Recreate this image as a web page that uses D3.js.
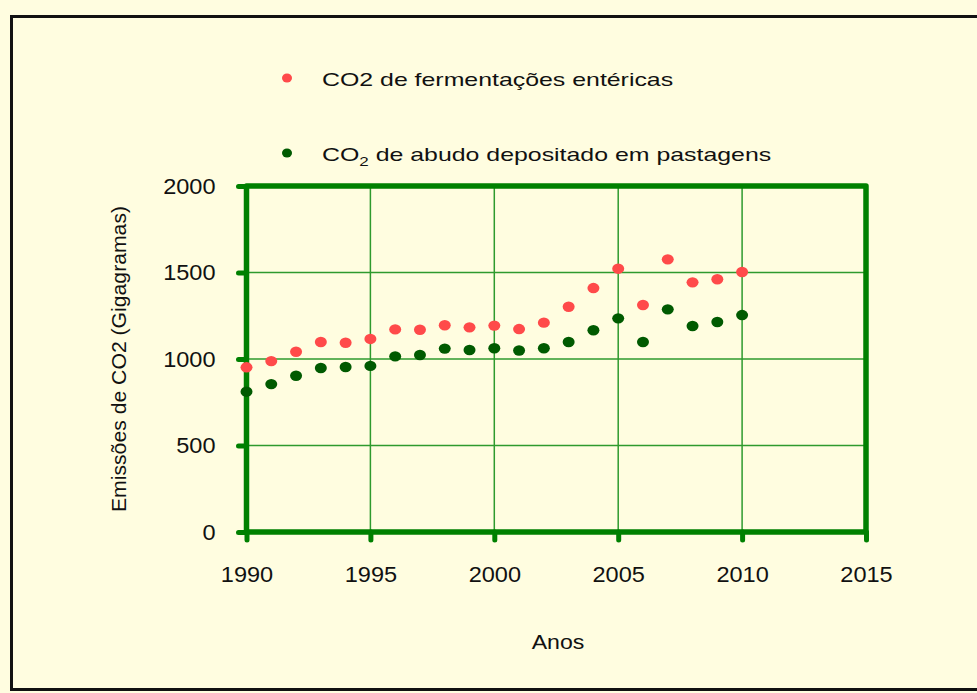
<!DOCTYPE html>
<html><head><meta charset="utf-8">
<script src="https://cdn.jsdelivr.net/npm/d3@7"></script>
<style>
html,body{margin:0;padding:0;background:#FFFDE0;}
svg{display:block;font-family:"Liberation Sans",Arial,sans-serif;}
</style></head>
<body><svg id="c" width="977" height="693"></svg>
<script>
const years = [1990,1991,1992,1993,1994,1995,1996,1997,1998,1999,2000,2001,2002,2003,2004,2005,2006,2007,2008,2009,2010];
const enteric = [952,988,1042,1098,1094,1116,1171,1169,1195,1183,1193,1173,1210,1302,1410,1522,1312,1576,1443,1461,1503];
const manure  = [811,855,903,948,954,960,1015,1023,1060,1052,1062,1049,1062,1098,1166,1235,1098,1287,1191,1214,1254];
const xTicks = [1990,1995,2000,2005,2010,2015];
const yTicks = [0,500,1000,1500,2000];
const seriesNames = ["CO2 de fermentações entéricas","de abudo depositado em pastagens"];
const seriesColors = ["#FF4A4A","#005A00"];

const svg = d3.select("#c");
svg.append("rect").attr("width",977).attr("height",693).attr("fill","#FFFDE0");
svg.append("rect").attr("x",11.5).attr("y",16.5).attr("width",990).attr("height",673)
  .attr("fill","#FFFDE0").attr("stroke","#111").attr("stroke-width",3);

const x = d3.scaleLinear().domain([1990,2015]).range([246.5,866]);
const y = d3.scaleLinear().domain([0,2000]).range([532,186]);
const green = "#008000";
const FONT = "'Liberation Sans',Arial,sans-serif";

// grid
const g = svg.append("g");
g.selectAll(".vg").data(xTicks.slice(1,-1)).join("line")
  .attr("x1",d=>x(d)).attr("x2",d=>x(d)).attr("y1",y(0)).attr("y2",y(2000))
  .attr("stroke","#2E9A2E").attr("stroke-width",1.5);
g.selectAll(".hg").data(yTicks.slice(1,-1)).join("line")
  .attr("y1",d=>y(d)).attr("y2",d=>y(d)).attr("x1",x(1990)).attr("x2",x(2015))
  .attr("stroke","#2E9A2E").attr("stroke-width",1.5);

// axes with D3
const tickSX = 1.07;
const xAxis = d3.axisBottom(x).tickValues(xTicks).tickFormat(d3.format("d")).tickSize(8).tickPadding(26);
const yAxis = d3.axisLeft(y).tickValues(yTicks).tickFormat(d3.format("d")).tickSize(8).tickPadding(23);
const gx = svg.append("g").attr("transform",`translate(0,${y(0)})`).call(xAxis);
const gy = svg.append("g").attr("transform",`translate(${x(1990)},0)`).call(yAxis);
[gx,gy].forEach(a=>{
  a.select(".domain").remove();
  a.selectAll(".tick line").attr("stroke",green).attr("stroke-width",5).attr("stroke-linecap","round");
  a.selectAll(".tick text").attr("fill","#111").attr("font-size",22).attr("font-family",FONT);
});
gx.selectAll(".tick text").attr("transform",`scale(${tickSX},1)`);
gy.selectAll(".tick text").attr("x",-31/tickSX).attr("transform",`scale(${tickSX},1)`);

// frame
svg.append("rect").attr("x",x(1990)).attr("y",y(2000)).attr("width",x(2015)-x(1990)).attr("height",y(0)-y(2000))
  .attr("fill","none").attr("stroke",green).attr("stroke-width",5.5).attr("stroke-linejoin","round");

// points
[enteric,manure].forEach((vals,i)=>{
  svg.append("g").selectAll("ellipse").data(years.map((yr,j)=>[yr,vals[j]])).join("ellipse")
    .attr("cx",d=>x(d[0])).attr("cy",d=>y(d[1])).attr("rx",6).attr("ry",5.2)
    .attr("fill",seriesColors[i]);
});

// legend
const lg = svg.append("g");
lg.append("ellipse").attr("cx",287).attr("cy",78).attr("rx",5).attr("ry",4.6).attr("fill",seriesColors[0]);
lg.append("text").attr("transform","translate(322,86) scale(1.31,1)").attr("font-size",19).attr("fill","#111").text(seriesNames[0]);
lg.append("ellipse").attr("cx",287).attr("cy",153).attr("rx",5).attr("ry",4.6).attr("fill",seriesColors[1]);
const t2 = lg.append("text").attr("transform","translate(322,161) scale(1.31,1)").attr("font-size",19).attr("fill","#111");
t2.append("tspan").text("CO");
t2.append("tspan").attr("font-size",13).attr("dy",5).text("2");
t2.append("tspan").attr("dy",-5).text(" " + seriesNames[1]);

// axis titles
svg.append("text").attr("transform","translate(558,649) scale(1.1,1)").attr("text-anchor","middle").attr("font-size",21).attr("fill","#111").text("Anos");
svg.append("text").attr("transform","translate(126,359) rotate(-90) scale(1.06,1)").attr("text-anchor","middle")
  .attr("font-size",20).attr("fill","#111").text("Emissões de CO2 (Gigagramas)");
</script></body></html>
